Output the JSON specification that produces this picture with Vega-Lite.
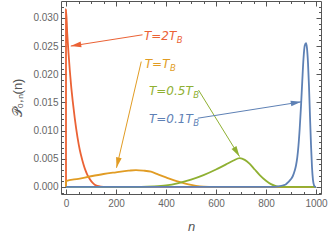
{
  "$schema": "https://vega.github.io/schema/vega-lite/v6.json",
  "width": 260,
  "height": 193,
  "autosize": {"type": "none"},
  "padding": {"left": 61, "top": 1, "right": 11, "bottom": 47},
  "background": "white",
  "datasets": {
    "curves": [
      {"T": "2", "n": 0, "p": 0}, {"T": "2", "n": 0, "p": 0.0315}, {"T": "2", "n": 5, "p": 0.0272}, {"T": "2", "n": 10, "p": 0.0238}, {"T": "2", "n": 15, "p": 0.0208}, {"T": "2", "n": 20, "p": 0.0182}, {"T": "2", "n": 27, "p": 0.0152}, {"T": "2", "n": 35, "p": 0.0122}, {"T": "2", "n": 46, "p": 0.0088}, {"T": "2", "n": 55, "p": 0.0066}, {"T": "2", "n": 65, "p": 0.0048}, {"T": "2", "n": 75, "p": 0.0033}, {"T": "2", "n": 85, "p": 0.0022}, {"T": "2", "n": 95, "p": 0.0014}, {"T": "2", "n": 105, "p": 0.0008}, {"T": "2", "n": 115, "p": 0.0004}, {"T": "2", "n": 125, "p": 0.00018}, {"T": "2", "n": 140, "p": 0.00005}, {"T": "2", "n": 160, "p": 0}, {"T": "2", "n": 1000, "p": 0},
      {"T": "1", "n": 0, "p": 0}, {"T": "1", "n": 0, "p": 0.00105}, {"T": "1", "n": 50, "p": 0.00145}, {"T": "1", "n": 100, "p": 0.0019}, {"T": "1", "n": 150, "p": 0.0023}, {"T": "1", "n": 200, "p": 0.0026}, {"T": "1", "n": 250, "p": 0.00288}, {"T": "1", "n": 280, "p": 0.003}, {"T": "1", "n": 310, "p": 0.0029}, {"T": "1", "n": 340, "p": 0.0027}, {"T": "1", "n": 370, "p": 0.0022}, {"T": "1", "n": 400, "p": 0.0017}, {"T": "1", "n": 430, "p": 0.0012}, {"T": "1", "n": 460, "p": 0.0008}, {"T": "1", "n": 490, "p": 0.00045}, {"T": "1", "n": 520, "p": 0.0002}, {"T": "1", "n": 550, "p": 0.00007}, {"T": "1", "n": 600, "p": 0.00001}, {"T": "1", "n": 650, "p": 0}, {"T": "1", "n": 1000, "p": 0},
      {"T": "0.5", "n": 0, "p": 0}, {"T": "0.5", "n": 300, "p": 0.00003}, {"T": "0.5", "n": 350, "p": 0.0001}, {"T": "0.5", "n": 400, "p": 0.00028}, {"T": "0.5", "n": 450, "p": 0.0007}, {"T": "0.5", "n": 500, "p": 0.0013}, {"T": "0.5", "n": 550, "p": 0.0021}, {"T": "0.5", "n": 600, "p": 0.0031}, {"T": "0.5", "n": 640, "p": 0.004}, {"T": "0.5", "n": 670, "p": 0.0047}, {"T": "0.5", "n": 695, "p": 0.0051}, {"T": "0.5", "n": 715, "p": 0.0048}, {"T": "0.5", "n": 735, "p": 0.0041}, {"T": "0.5", "n": 755, "p": 0.0031}, {"T": "0.5", "n": 775, "p": 0.0021}, {"T": "0.5", "n": 800, "p": 0.0011}, {"T": "0.5", "n": 820, "p": 0.0005}, {"T": "0.5", "n": 840, "p": 0.00015}, {"T": "0.5", "n": 860, "p": 0.00003}, {"T": "0.5", "n": 880, "p": 0}, {"T": "0.5", "n": 1000, "p": 0},
      {"T": "0.1", "n": 0, "p": 0}, {"T": "0.1", "n": 820, "p": 0}, {"T": "0.1", "n": 850, "p": 0.0001}, {"T": "0.1", "n": 870, "p": 0.0003}, {"T": "0.1", "n": 880, "p": 0.0005}, {"T": "0.1", "n": 890, "p": 0.0009}, {"T": "0.1", "n": 900, "p": 0.0014}, {"T": "0.1", "n": 907, "p": 0.0019}, {"T": "0.1", "n": 915, "p": 0.0029}, {"T": "0.1", "n": 920, "p": 0.0038}, {"T": "0.1", "n": 925, "p": 0.0052}, {"T": "0.1", "n": 930, "p": 0.0074}, {"T": "0.1", "n": 935, "p": 0.0105}, {"T": "0.1", "n": 940, "p": 0.0143}, {"T": "0.1", "n": 945, "p": 0.0187}, {"T": "0.1", "n": 950, "p": 0.0228}, {"T": "0.1", "n": 955, "p": 0.0251}, {"T": "0.1", "n": 960, "p": 0.0255}, {"T": "0.1", "n": 964, "p": 0.0246}, {"T": "0.1", "n": 968, "p": 0.022}, {"T": "0.1", "n": 972, "p": 0.0178}, {"T": "0.1", "n": 976, "p": 0.0125}, {"T": "0.1", "n": 980, "p": 0.0075}, {"T": "0.1", "n": 984, "p": 0.0035}, {"T": "0.1", "n": 988, "p": 0.0012}, {"T": "0.1", "n": 992, "p": 0.0003}, {"T": "0.1", "n": 996, "p": 0.00005}, {"T": "0.1", "n": 1000, "p": 0}
    ],
    "arrows": [
      {"T": "2", "x1": 306, "y1": 0.027, "x2": 19, "y2": 0.025},
      {"T": "1", "x1": 301, "y1": 0.02225, "x2": 202, "y2": 0.0034},
      {"T": "0.5", "x1": 530, "y1": 0.0172, "x2": 694, "y2": 0.0054},
      {"T": "0.1", "x1": 527, "y1": 0.0122, "x2": 941, "y2": 0.0151}
    ],
    "labels": [
      {"T": "2", "main": "T=2T", "x": 441, "y": 0.0261},
      {"T": "1", "main": "T=T", "x": 414, "y": 0.02107},
      {"T": "0.5", "main": "T=0.5T", "x": 507, "y": 0.01624},
      {"T": "0.1", "main": "T=0.1T", "x": 507, "y": 0.01127}
    ]
  },
  "config": {
    "view": {"stroke": "#555", "strokeWidth": 1},
    "axis": {
      "domain": false, "grid": false,
      "labelFont": "Liberation Sans", "labelFontSize": 10, "labelColor": "#666",
      "tickColor": "#555", "tickWidth": 1,
      "titleFont": "Liberation Sans", "titleFontWeight": "normal", "titleColor": "#555",
      "labelOverlap": false, "labelFlush": false, "labelBound": false
    }
  },
  "resolve": {"axis": {"x": "independent", "y": "independent"}},
  "layer": [
    {
      "data": {"name": "curves"},
      "mark": {"type": "line", "strokeWidth": 1.8, "interpolate": "monotone"},
      "encoding": {
        "x": {"field": "n", "type": "quantitative",
          "scale": {"domain": [-20, 1020], "nice": false, "zero": false},
          "axis": {"orient": "bottom", "title": "n", "titleFontStyle": "italic", "titleFontSize": 13, "titlePadding": 10,
            "values": [0, 50, 100, 150, 200, 250, 300, 350, 400, 450, 500, 550, 600, 650, 700, 750, 800, 850, 900, 950, 1000],
            "tickSize": {"condition": {"test": "abs(datum.value/200 - round(datum.value/200)) < 0.000001", "value": -5}, "value": -2.5},
            "labelExpr": "abs(datum.value/200 - round(datum.value/200)) < 0.000001 ? format(datum.value, 'd') : ''",
            "labelPadding": 9}},
        "y": {"field": "p", "type": "quantitative",
          "scale": {"domain": [-0.00125, 0.033], "nice": false, "zero": false},
          "axis": {"orient": "left", "title": "𝒫₀,ₙ(n)", "titleFontSize": 13, "titlePadding": 8,
            "values": [-0.001, 0, 0.001, 0.002, 0.003, 0.004, 0.005, 0.006, 0.007, 0.008, 0.009, 0.01, 0.011, 0.012, 0.013, 0.014, 0.015, 0.016, 0.017, 0.018, 0.019, 0.02, 0.021, 0.022, 0.023, 0.024, 0.025, 0.026, 0.027, 0.028, 0.029, 0.03, 0.031, 0.032],
            "tickSize": {"condition": {"test": "abs(datum.value/0.005 - round(datum.value/0.005)) < 0.000001", "value": -5}, "value": -2.5},
            "labelExpr": "abs(datum.value/0.005 - round(datum.value/0.005)) < 0.000001 ? format(datum.value, '.3f') : ''",
            "labelPadding": 8}},
        "color": {"field": "T", "type": "nominal", "legend": null,
          "scale": {"domain": ["2", "1", "0.5", "0.1"], "range": ["#EB6235", "#E19C24", "#8FB032", "#5E81B5"]}},
        "order": {"value": null}
      }
    },
    {
      "data": {"name": "arrows"},
      "mark": {"type": "rule", "strokeWidth": 1},
      "encoding": {
        "x": {"field": "x1", "type": "quantitative", "scale": {"domain": [-20, 1020], "nice": false, "zero": false}, "axis": null},
        "y": {"field": "y1", "type": "quantitative", "scale": {"domain": [-0.00125, 0.033], "nice": false, "zero": false}, "axis": null},
        "x2": {"field": "x2"},
        "y2": {"field": "y2"},
        "color": {"field": "T", "type": "nominal", "legend": null}
      }
    },
    {
      "data": {"name": "arrows"},
      "mark": {"type": "point", "shape": "M0,0L0.55,2L-0.55,2Z", "filled": true, "opacity": 1, "size": 110, "strokeWidth": 0,
        "angle": {"expr": "atan2(scale('x', datum.x2) - scale('x', datum.x1), scale('y', datum.y1) - scale('y', datum.y2)) * 180 / PI"}},
      "encoding": {
        "x": {"field": "x2", "type": "quantitative", "scale": {"domain": [-20, 1020], "nice": false, "zero": false}, "axis": null},
        "y": {"field": "y2", "type": "quantitative", "scale": {"domain": [-0.00125, 0.033], "nice": false, "zero": false}, "axis": null},
        "color": {"field": "T", "type": "nominal", "legend": null}
      }
    },
    {
      "data": {"name": "labels"},
      "mark": {"type": "text", "align": "right", "baseline": "alphabetic", "font": "DejaVu Sans", "fontSize": 12, "fontStyle": "italic"},
      "encoding": {
        "x": {"field": "x", "type": "quantitative", "scale": {"domain": [-20, 1020], "nice": false, "zero": false}, "axis": null},
        "y": {"field": "y", "type": "quantitative", "scale": {"domain": [-0.00125, 0.033], "nice": false, "zero": false}, "axis": null},
        "text": {"field": "main"},
        "color": {"field": "T", "type": "nominal", "legend": null}
      }
    },
    {
      "data": {"name": "labels"},
      "mark": {"type": "text", "align": "left", "baseline": "alphabetic", "font": "DejaVu Sans", "fontSize": 8.5, "fontStyle": "italic", "dx": 0.5, "dy": 3},
      "encoding": {
        "x": {"field": "x", "type": "quantitative", "scale": {"domain": [-20, 1020], "nice": false, "zero": false}, "axis": null},
        "y": {"field": "y", "type": "quantitative", "scale": {"domain": [-0.00125, 0.033], "nice": false, "zero": false}, "axis": null},
        "text": {"value": "B"},
        "color": {"field": "T", "type": "nominal", "legend": null}
      }
    },
    {
      "data": {"name": "curves"},
      "mark": {"type": "point", "opacity": 0},
      "encoding": {
        "x": {"field": "n", "type": "quantitative",
          "scale": {"domain": [-20, 1020], "nice": false, "zero": false},
          "axis": {"orient": "top", "title": null, "labels": false,
            "values": [0, 50, 100, 150, 200, 250, 300, 350, 400, 450, 500, 550, 600, 650, 700, 750, 800, 850, 900, 950, 1000],
            "tickSize": {"condition": {"test": "abs(datum.value/200 - round(datum.value/200)) < 0.000001", "value": -5}, "value": -2.5}}},
        "y": {"field": "p", "type": "quantitative",
          "scale": {"domain": [-0.00125, 0.033], "nice": false, "zero": false},
          "axis": {"orient": "right", "title": null, "labels": false,
            "values": [-0.001, 0, 0.001, 0.002, 0.003, 0.004, 0.005, 0.006, 0.007, 0.008, 0.009, 0.01, 0.011, 0.012, 0.013, 0.014, 0.015, 0.016, 0.017, 0.018, 0.019, 0.02, 0.021, 0.022, 0.023, 0.024, 0.025, 0.026, 0.027, 0.028, 0.029, 0.03, 0.031, 0.032],
            "tickSize": {"condition": {"test": "abs(datum.value/0.005 - round(datum.value/0.005)) < 0.000001", "value": -5}, "value": -2.5}}}
      }
    }
  ]
}
